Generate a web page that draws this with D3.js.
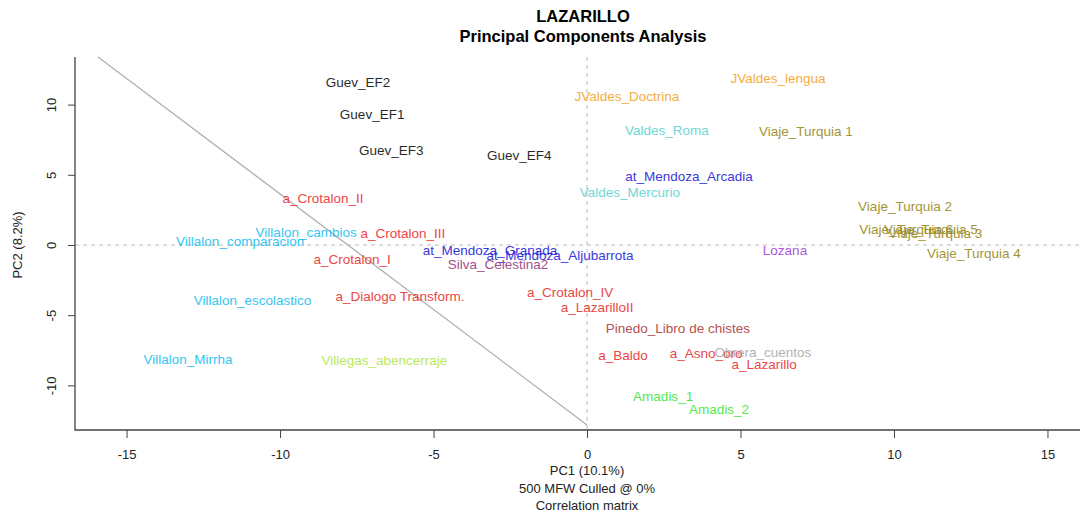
<!DOCTYPE html>
<html>
<head>
<meta charset="utf-8">
<script src="https://cdn.jsdelivr.net/npm/d3@7"></script>
<style>
  body { margin: 0; background: #fff; }
  text { font-family: "Liberation Sans", Arial, sans-serif; }
</style>
</head>
<body>
<div class="chart"></div>
<script>
var svgWidth = 1080;
var svgHeight = 519;

// sample names and PCA coordinates
var labels = [
  "Guev_EF2", "Guev_EF1", "Guev_EF3", "Guev_EF4",
  "JValdes_Doctrina", "JValdes_lengua", "Valdes_Roma", "Valdes_Mercurio",
  "Viaje_Turquia 1", "Viaje_Turquia 2", "Viaje_Turquia 6", "Viaje_Turquia 5", "Viaje_Turquia 3", "Viaje_Turquia 4",
  "at_Mendoza_Arcadia", "at_Mendoza_Granada", "at_Mendoza_Aljubarrota",
  "a_Crotalon_II", "a_Crotalon_III", "a_Crotalon_I", "a_Crotalon_IV",
  "Villalon_cambios", "Villalon_comparacion", "Villalon_escolastico", "Villalon_Mirrha",
  "Silva_Celestina2", "Lozana", "a_Dialogo Transform.", "a_LazarilloII",
  "Pinedo_Libro de chistes", "a_Baldo", "a_Asno_oro", "Obrera_cuentos", "a_Lazarillo",
  "Villegas_abencerraje", "Amadis_1", "Amadis_2"
];
var pc1 = [
  -7.46, -7.0, -6.38, -2.21,
  1.3, 6.22, 2.6, 1.4,
  7.13, 10.36, 10.4, 11.2, 11.35, 12.6,
  3.32, -3.16, -0.88,
  -8.6, -6.0, -7.65, -0.55,
  -9.15, -11.3, -10.9, -13.0,
  -2.9, 6.45, -6.09, 0.33,
  2.96, 1.17, 3.88, 5.73, 5.77,
  -6.6, 2.48, 4.3
];
var pc2 = [
  11.6, 9.33, 6.77, 6.41,
  10.6, 11.9, 8.19, 3.77,
  8.12, 2.78, 1.15, 1.15, 0.85, -0.57,
  4.91, -0.36, -0.71,
  3.35, 0.85, -1.0, -3.35,
  0.93, 0.28, -3.92, -8.12,
  -1.35, -0.36, -3.63, -4.42,
  -5.91, -7.83, -7.69, -7.62, -8.48,
  -8.19, -10.75, -11.68
];
var colors = [
  "#111111", "#111111", "#111111", "#111111",
  "#f5a62a", "#f5a62a", "#62d2d2", "#62d2d2",
  "#9a8a1c", "#9a8a1c", "#9a8a1c", "#9a8a1c", "#9a8a1c", "#9a8a1c",
  "#2424d8", "#2424d8", "#2424d8",
  "#e83232", "#e83232", "#e83232", "#e83232",
  "#22bff0", "#22bff0", "#22bff0", "#22bff0",
  "#9a3e7e", "#a645e0", "#e83232", "#e83232",
  "#b23c3c", "#e83232", "#e83232", "#aaaaaa", "#e83232",
  "#b6e64a", "#3ee83e", "#3ee83e"
];
var xTicks = [-15, -10, -5, 0, 5, 10, 15];
var yTicks = [-10, -5, 0, 5, 10];
var xDomain = [-16.68, 16.06];
var yDomain = [-13.18, 13.39];
// the grey diagonal guide line drawn across the plot
var guideX = [-15.93, 0];
var guideY = [13.39, -12.82];

var margin = { top: 57, right: 0, bottom: 89, left: 75 };
var width = svgWidth - margin.left - margin.right;
var height = svgHeight - margin.top - margin.bottom;

var svg = d3.select(".chart")
  .append("svg")
  .attr("width", svgWidth)
  .attr("height", svgHeight);

var chartGroup = svg.append("g")
  .attr("transform", `translate(${margin.left}, ${margin.top})`);

var xScale = d3.scaleLinear().domain(xDomain).range([0, width]);
var yScale = d3.scaleLinear().domain(yDomain).range([height, 0]);

// titles
svg.append("text")
  .attr("x", 583).attr("y", 22)
  .attr("text-anchor", "middle")
  .attr("font-size", "16.5px")
  .attr("font-weight", "bold")
  .text("LAZARILLO");
svg.append("text")
  .attr("x", 583).attr("y", 42)
  .attr("text-anchor", "middle")
  .attr("font-size", "16.5px")
  .attr("font-weight", "bold")
  .text("Principal Components Analysis");

// dashed zero lines
chartGroup.append("line")
  .attr("x1", xScale(0)).attr("x2", xScale(0))
  .attr("y1", 0).attr("y2", height)
  .attr("stroke", "#bbbbbb")
  .attr("stroke-dasharray", "4,4");
chartGroup.append("line")
  .attr("x1", 0).attr("x2", width)
  .attr("y1", yScale(0)).attr("y2", yScale(0))
  .attr("stroke", "#bbbbbb")
  .attr("stroke-dasharray", "4,4");

// diagonal guide
chartGroup.append("line")
  .attr("x1", xScale(guideX[0])).attr("y1", yScale(guideY[0]))
  .attr("x2", xScale(guideX[1])).attr("y2", yScale(guideY[1]))
  .attr("stroke", "#b0b0b0")
  .attr("stroke-width", 1.3);

// axes (plain hyphen for negatives, like R)
var bottomAxis = d3.axisBottom(xScale).tickValues(xTicks).tickFormat(d => String(d))
  .tickSize(8).tickSizeOuter(0).tickPadding(12);
var leftAxis = d3.axisLeft(yScale).tickValues(yTicks).tickFormat(d => String(d))
  .tickSize(7).tickSizeOuter(0);

var xAxis = chartGroup.append("g")
  .attr("transform", `translate(0, ${height})`)
  .call(bottomAxis);
xAxis.select(".domain").remove();
xAxis.selectAll("text").attr("font-size", "13px").attr("fill", "#222").style("font-family", "Liberation Sans, Arial, sans-serif");
xAxis.selectAll("line").attr("stroke", "#444");

var yAxis = chartGroup.append("g").call(leftAxis);
yAxis.select(".domain").remove();
yAxis.selectAll("line").attr("stroke", "#444");
yAxis.selectAll("text")
  .attr("font-size", "13px")
  .attr("fill", "#222")
  .style("font-family", "Liberation Sans, Arial, sans-serif")
  .attr("text-anchor", "middle")
  .attr("x", null).attr("dy", null)
  .attr("transform", "translate(-19, 0) rotate(-90)")
  .attr("y", 0);

// L-shaped frame
chartGroup.append("path")
  .attr("d", `M0,0V${height}H${width}`)
  .attr("fill", "none")
  .attr("stroke", "#444")
  .attr("stroke-width", 1.3);

// sample labels
chartGroup.selectAll(".sample")
  .data(labels)
  .enter()
  .append("text")
  .attr("class", "sample")
  .attr("x", (d, i) => xScale(pc1[i]))
  .attr("y", (d, i) => yScale(pc2[i]))
  .attr("dy", "0.35em")
  .attr("text-anchor", "middle")
  .attr("font-size", "13.5px")
  .attr("fill", (d, i) => colors[i])
  .attr("opacity", 0.9)
  .text(d => d);

// axis titles
svg.append("text")
  .attr("transform", `translate(22, ${margin.top + yScale(0)}) rotate(-90)`)
  .attr("text-anchor", "middle")
  .attr("font-size", "13px")
  .attr("fill", "#222")
  .text("PC2 (8.2%)");

var xTitle = svg.append("text")
  .attr("x", margin.left + xScale(0))
  .attr("text-anchor", "middle")
  .attr("font-size", "13px")
  .attr("fill", "#222");
xTitle.append("tspan").attr("x", margin.left + xScale(0)).attr("y", 475).text("PC1 (10.1%)");
xTitle.append("tspan").attr("x", margin.left + xScale(0)).attr("y", 493).text("500 MFW  Culled @ 0%");
xTitle.append("tspan").attr("x", margin.left + xScale(0)).attr("y", 510).text("Correlation matrix");
</script>
</body>
</html>
